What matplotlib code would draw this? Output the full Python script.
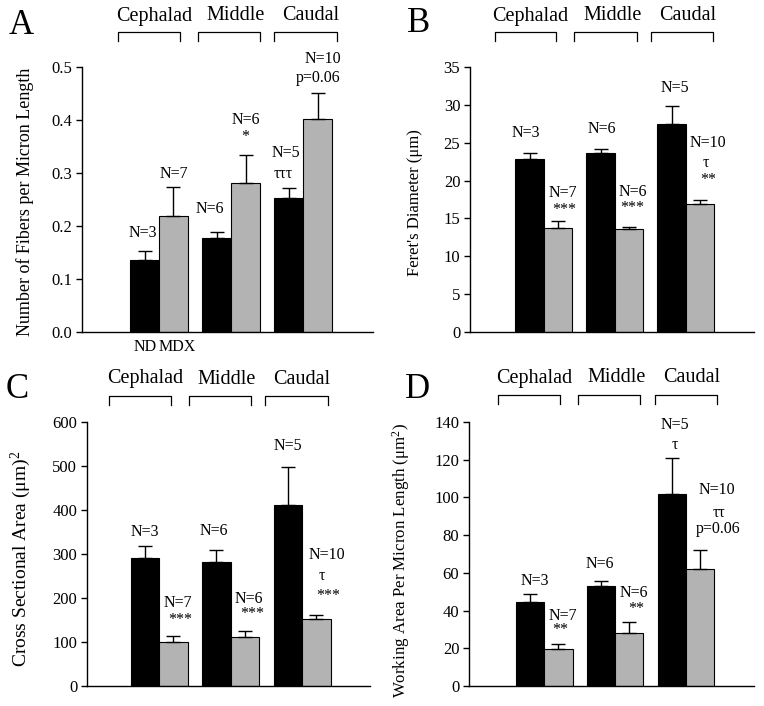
import matplotlib
matplotlib.use('Agg')
import matplotlib.pyplot as plt
from matplotlib.lines import Line2D
from matplotlib.transforms import blended_transform_factory
import numpy as np

plt.rcParams['font.family'] = ['Liberation Serif', 'DejaVu Serif']
plt.rcParams['mathtext.fontset'] = 'custom'
plt.rcParams['mathtext.rm'] = 'Liberation Serif'
plt.rcParams['mathtext.it'] = 'Liberation Serif:italic'

# ---------------- data ----------------
regions = ['Cephalad', 'Middle', 'Caudal']
groups = ['ND', 'MDX']

fibers_nd = [0.135, 0.178, 0.253]
fibers_nd_err = [0.017, 0.011, 0.019]
fibers_mdx = [0.219, 0.282, 0.401]
fibers_mdx_err = [0.055, 0.052, 0.050]

feret_nd = [22.8, 23.6, 27.5]
feret_nd_err = [0.9, 0.6, 2.4]
feret_mdx = [13.8, 13.6, 16.9]
feret_mdx_err = [0.9, 0.3, 0.6]

csa_nd = [292, 282, 412]
csa_nd_err = [26, 26, 85]
csa_mdx = [101, 112, 152]
csa_mdx_err = [13, 14, 10]

wa_nd = [44.5, 53.0, 101.9]
wa_nd_err = [4.2, 2.6, 19.0]
wa_mdx = [19.4, 28.2, 61.8]
wa_mdx_err = [3.0, 5.7, 10.2]

W, H = 764, 706
fig = plt.figure(figsize=(W / 100, H / 100), dpi=100)

ND_COLOR = 'black'
MDX_COLOR = '#b3b3b3'


def px_rect(left, right, top, bottom):
    return [left / W, 1 - bottom / H, (right - left) / W, (bottom - top) / H]


def figtext(x, y, s, **kw):
    fig.text(x / W, 1 - y / H, s, ha='center', va='center', **kw)


def bracket(x0, x1, ytop, ybot):
    xs = [x0 / W, x0 / W, x1 / W, x1 / W]
    ys = [1 - ybot / H, 1 - ytop / H, 1 - ytop / H, 1 - ybot / H]
    fig.add_artist(Line2D(xs, ys, color='black', lw=0.9))


panels = [
    dict(letter='A', rect=px_rect(82, 373, 67, 332), xlim=(-1.07, 2.97),
         ylim=(0, 0.5), yticks=np.arange(0, 0.51, 0.1), fmt='{:.1f}',
         nd=fibers_nd, nde=fibers_nd_err, mdx=fibers_mdx, mdxe=fibers_mdx_err,
         ylabel='Number of Fibers per Micron Length', ylab_xy=(-0.165, 0.49),
         ylab_fs=13, letter_xy=(21, 25),
         brackets=[(118, 180), (198, 260), (274, 337)], br_y=(32, 41),
         labels_x=[154, 236, 311], labels_y=16,
         ann=[(0, 0, 0.187, 'N=3', -0.03), (0, 1, 0.299, 'N=7', 0.0),
              (1, 0, 0.233, 'N=6', -0.09), (1, 1, 0.400, 'N=6', 0.0),
              (1, 1, 0.367, '*', 0.0), (2, 0, 0.337, 'N=5', -0.04),
              (2, 0, 0.299, 'τττ', -0.07), (2, 1, 0.516, 'N=10', 0.07),
              (2, 1, 0.480, 'p=0.06', 0.01)]),
    dict(letter='B', rect=px_rect(470, 754, 67, 332), xlim=(-1.04, 2.96),
         ylim=(0, 35), yticks=np.arange(0, 36, 5), fmt='{:.0f}',
         nd=feret_nd, nde=feret_nd_err, mdx=feret_mdx, mdxe=feret_mdx_err,
         ylabel="Feret's Diameter (μm)", ylab_xy=(-0.165, 0.49),
         ylab_fs=12, letter_xy=(419, 24),
         brackets=[(495, 556), (574, 637), (651, 713)], br_y=(32, 41),
         labels_x=[530, 613, 688], labels_y=16,
         ann=[(0, 0, 26.3, 'N=3', -0.06), (0, 1, 18.4, 'N=7', 0.07),
              (0, 1, 16.1, '***', 0.08), (1, 0, 26.8, 'N=6', 0.02),
              (1, 1, 18.5, 'N=6', 0.05), (1, 1, 16.4, '***', 0.05),
              (2, 0, 32.2, 'N=5', 0.05), (2, 1, 25.0, 'N=10', 0.11),
              (2, 1, 22.3, 'τ', 0.08), (2, 1, 20.1, '**', 0.12)]),
    dict(letter='C', rect=px_rect(87, 370, 422, 686), xlim=(-1.01, 2.95),
         ylim=(0, 600), yticks=np.arange(0, 601, 100), fmt='{:.0f}',
         nd=csa_nd, nde=csa_nd_err, mdx=csa_mdx, mdxe=csa_mdx_err,
         ylabel='Cross Sectional Area (μm)$^{2}$', ylab_xy=(-0.19, 0.48),
         ylab_fs=14, letter_xy=(17, 390),
         brackets=[(109, 171), (189, 251), (265, 328)], br_y=(396, 405),
         labels_x=[145, 227, 302], labels_y=379,
         ann=[(0, 0, 350, 'N=3', 0.0), (0, 1, 189, 'N=7', 0.06),
              (0, 1, 151, '***', 0.10), (1, 0, 353, 'N=6', -0.03),
              (1, 1, 198, 'N=6', 0.06), (1, 1, 164, '***', 0.10),
              (2, 0, 545, 'N=5', 0.0), (2, 1, 298, 'N=10', 0.15),
              (2, 1, 251, 'τ', 0.08), (2, 1, 204, '***', 0.16)]),
    dict(letter='D', rect=px_rect(469, 754, 422, 686), xlim=(-1.06, 2.96),
         ylim=(0, 140), yticks=np.arange(0, 141, 20), fmt='{:.0f}',
         nd=wa_nd, nde=wa_nd_err, mdx=wa_mdx, mdxe=wa_mdx_err,
         ylabel='Working Area Per Micron Length (μm$^{2}$)', ylab_xy=(-0.2, 0.475),
         ylab_fs=12.2, letter_xy=(418, 389),
         brackets=[(498, 560), (578, 640), (655, 717)], br_y=(395, 404),
         labels_x=[534, 617, 692], labels_y=378,
         ann=[(0, 0, 55.6, 'N=3', 0.07), (0, 1, 37.1, 'N=7', 0.06),
              (0, 1, 29.5, '**', 0.03), (1, 0, 64.8, 'N=6', -0.02),
              (1, 1, 49.4, 'N=6', 0.06), (1, 1, 40.6, '**', 0.10),
              (2, 0, 138.6, 'N=5', 0.04), (2, 0, 128.0, 'τ', 0.04),
              (2, 1, 103.8, 'N=10', 0.24), (2, 1, 91.8, 'ττ', 0.27),
              (2, 1, 83.0, 'p=0.06', 0.25)]),
]

bw = 0.4
x = np.arange(len(regions))
for p in panels:
    ax = fig.add_axes(p['rect'])
    ekw = dict(elinewidth=1.0, capthick=1.0, ecolor='black')
    ax.bar(x - bw / 2, p['nd'], bw, color=ND_COLOR, edgecolor='black', lw=0.8,
           yerr=[np.zeros(3), p['nde']], capsize=5, error_kw=ekw, zorder=2)
    ax.bar(x + bw / 2, p['mdx'], bw, color=MDX_COLOR, edgecolor='black', lw=0.8,
           yerr=[np.zeros(3), p['mdxe']], capsize=5, error_kw=ekw, zorder=2)
    ax.set_xlim(*p['xlim'])
    ax.set_ylim(*p['ylim'])
    ax.set_yticks(p['yticks'])
    ax.set_yticklabels([p['fmt'].format(v) for v in p['yticks']])
    ax.set_xticks([])
    for s in ['top', 'right']:
        ax.spines[s].set_visible(False)
    for s in ['left', 'bottom']:
        ax.spines[s].set_linewidth(1.0)
    ax.tick_params(axis='y', direction='out', length=4, width=1.0,
                   labelsize=12, pad=3)
    ax.set_ylabel(p['ylabel'], fontsize=p['ylab_fs'])
    ax.yaxis.set_label_coords(*p['ylab_xy'])
    for gi, si, yv, s, dx in p['ann']:
        xc = x[gi] + (bw / 2 if si == 1 else -bw / 2) + dx
        ax.text(xc, yv, s, ha='center', va='center', fontsize=11.5,
                clip_on=False)
    # brackets and region labels
    for (x0, x1) in p['brackets']:
        bracket(x0, x1, *p['br_y'])
    for lx, name in zip(p['labels_x'], regions):
        figtext(lx, p['labels_y'], name, fontsize=14.5)
    figtext(p['letter_xy'][0], p['letter_xy'][1], p['letter'], fontsize=25)
    if p['letter'] == 'A':
        tr = blended_transform_factory(ax.transData, ax.transAxes)
        ax.text(x[0] - bw / 2 + 0.01, -0.057, groups[0], transform=tr,
                ha='center', va='center', fontsize=11.5)
        ax.text(x[0] + bw / 2 + 0.05, -0.057, groups[1], transform=tr,
                ha='center', va='center', fontsize=11.5)

fig.savefig('out.png', dpi=100)
